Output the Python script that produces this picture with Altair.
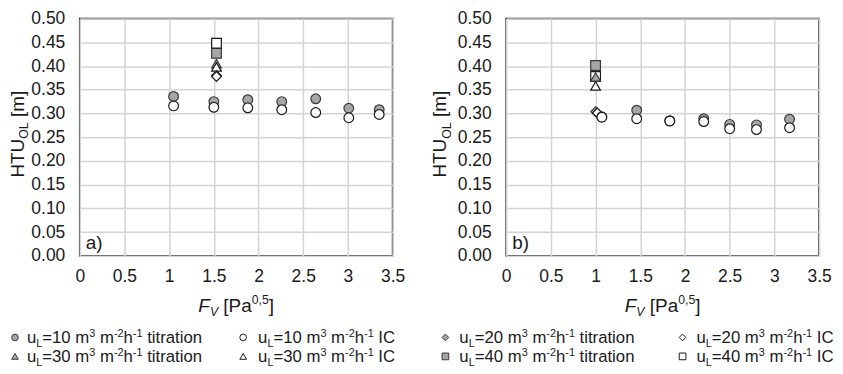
import altair as alt
import pandas as pd

# ---------------- data ----------------
x_ticks = [0, 0.5, 1, 1.5, 2, 2.5, 3, 3.5]
y_ticks = [0, 0.05, 0.10, 0.15, 0.20, 0.25, 0.30, 0.35, 0.40, 0.45, 0.50]

# panel a)
fv_a_ul10 = [1.05, 1.50, 1.88, 2.26, 2.64, 3.01, 3.35]
htu_a_ul10_titration = [0.336, 0.325, 0.329, 0.325, 0.331, 0.311, 0.308]
htu_a_ul10_ic = [0.316, 0.313, 0.312, 0.308, 0.302, 0.291, 0.298]

# other liquid loads: order uL=40 tit, 40 IC, 30 tit, 30 IC, 20 tit, 20 IC
other_ul = ["40", "40", "30", "30", "20", "20"]
other_method = ["titration", "IC", "titration", "IC", "titration", "IC"]
fv_a_other = [1.53, 1.53, 1.53, 1.53, 1.53, 1.53]
htu_a_other = [0.427, 0.448, 0.405, 0.398, 0.380, 0.378]

# panel b)
fv_b_ul10 = [1.07, 1.46, 1.83, 2.21, 2.50, 2.80, 3.17]
htu_b_ul10_titration = [0.293, 0.307, 0.285, 0.289, 0.277, 0.276, 0.288]
htu_b_ul10_ic = [0.292, 0.289, 0.284, 0.283, 0.268, 0.266, 0.270]
fv_b_other = [1.00, 1.00, 1.00, 1.00, 1.00, 1.02]
htu_b_other = [0.401, 0.378, 0.377, 0.358, 0.304, 0.301]

# legend entries (row-major, 4 columns)
legend_ul = ["10", "10", "20", "20", "30", "30", "40", "40"]
legend_method = ["titration", "IC", "titration", "IC", "titration", "IC", "titration", "IC"]
panel_labels = ["a)", "b)"]

# ---------------- style / layout ----------------
FONT = "Liberation Sans"
TEXT = "#1a1a1a"
W, H = 314, 238
SPACING = 114
TITLE_S = 19
LEG_S = 16.8
GRAY = "#a6a6a6"

AW = {' ': 278, '[': 278, ']': 278, '(': 333, ')': 333, ',': 278, '.': 278, '=': 584,
      '-': 333, 'F': 611, 'V': 667, 'P': 667, 'H': 722, 'T': 611, 'U': 722, 'O': 778,
      'L': 556, 'I': 278, 'C': 722, 'a': 556, 'b': 556, 'm': 833, 'u': 556, 'h': 556,
      't': 278, 'i': 222, 'r': 333, 'o': 556, 'n': 556}


def tw(s, size):
    return sum(AW.get(c, 556) for c in s) / 1000.0 * size


def rich(segs, S, ax, ay, angle=0, center=True):
    parts, adv = [], 0.0
    for t, kind, it in segs:
        sz = S if kind == "n" else round(S * 0.65, 1)
        shift = 0.0 if kind == "n" else (0.22 * S if kind == "sub" else -0.38 * S)
        parts.append((t, sz, shift, it, adv))
        adv += tw(t, sz)
    start = -adv / 2 if center else 0.0
    rows = []
    for t, sz, shift, it, a in parts:
        lead = len(t) - len(t.lstrip())
        a2 = start + a + tw(t[:lead], sz)
        if angle == 0:
            px, py = ax + a2, ay + shift
        else:
            px, py = ax + shift, ay - a2
        rows.append(dict(t=t.strip(), size=sz, italic=it, angle=angle, px=px, py=py))
    return rows


xscale = alt.Scale(domain=[0, 3.5], nice=False, zero=False)
yscale = alt.Scale(domain=[0, 0.5], nice=False, zero=False)
xaxis = alt.Axis(values=x_ticks, format=".1~f", title=None, labelPadding=12,
                 labelFlush=False, labelOverlap=False)
yaxis = alt.Axis(values=y_ticks, format=".2f", title=None, labelPadding=15,
                 labelFlush=False, labelOverlap=False)
X = alt.X("fv:Q", scale=xscale, axis=xaxis)
Y = alt.Y("htu:Q", scale=yscale, axis=yaxis)
shape_enc = alt.Shape("ul:N", scale=alt.Scale(domain=["10", "20", "30", "40"],
                      range=["circle", "diamond", "triangle-up", "square"]), legend=None)
fill_enc = alt.Fill("method:N", scale=alt.Scale(domain=["titration", "IC"],
                    range=[GRAY, "#ffffff"]), legend=None)
stroke_enc = alt.Stroke("method:N", scale=alt.Scale(domain=["titration", "IC"],
                        range=["#3a3a3a", "#1a1a1a"]), legend=None)


def text_layers(rows):
    df = pd.DataFrame(rows)
    df["fv"] = df["px"] / W * 3.5
    df["htu"] = 0.5 * (1 - df["py"] / H)
    layers = []
    for (sz, it, ang), g in df.groupby(["size", "italic", "angle"]):
        mk = dict(align="left", baseline="alphabetic", fontSize=float(sz), font=FONT, color=TEXT)
        if bool(it):
            mk["fontStyle"] = "italic"
        if int(ang) != 0:
            mk["angle"] = float(ang)
        layers.append(alt.Chart(g[["fv", "htu", "t"]].reset_index(drop=True))
                      .mark_text(**mk).encode(x=X, y=Y, text="t:N"))
    return layers


def panel(fv10, tit10, ic10, fvo, htuo, label, ytitle_off, with_legend):
    rows = []
    for u, m, f, h in zip(other_ul, other_method, fvo, htuo):
        rows.append(dict(ul=u, method=m, fv=f, htu=h))
    for f, h in zip(fv10, tit10):
        rows.append(dict(ul="10", method="titration", fv=f, htu=h))
    for f, h in zip(fv10, ic10):
        rows.append(dict(ul="10", method="IC", fv=f, htu=h))
    pts = alt.Chart(pd.DataFrame(rows)).mark_point(
        filled=True, size=95, strokeWidth=1.2, opacity=1
    ).encode(x=X, y=Y, shape=shape_enc, fill=fill_enc, stroke=stroke_enc)

    trows = []
    # y title  HTU_OL [m]
    trows += rich([("HTU", "n", False), ("OL", "sub", False), (" [m]", "n", False)],
                  TITLE_S, ytitle_off, H / 2 - 3, angle=270)
    # x title  F_V [Pa^0,5]
    trows += rich([("F", "n", True), ("V", "sub", True), (" [Pa", "n", False),
                   ("0,5", "sup", False), ("]", "n", False)], TITLE_S, W / 2, H + 56)
    # panel label
    trows += rich([(label, "n", False)], TITLE_S, 6, H - 7, center=False)

    layers = [pts]
    if with_legend:
        col_sym = [13, 242, 445, 683]
        col_txt = [25, 257, 459, 697]
        row_sym = [H + 82, H + 101]
        row_txt = [H + 88, H + 107]
        left = 78
        sym_rows = []
        for i, (u, m) in enumerate(zip(legend_ul, legend_method)):
            r, c = divmod(i, 4)
            sym_rows.append(dict(ul=u, method=m,
                                 fv=(col_sym[c] - left) / W * 3.5,
                                 htu=0.5 * (1 - row_sym[r] / H)))
            trows += rich([("u", "n", False), ("L", "sub", False), ("=" + u + " m", "n", False),
                           ("3", "sup", False), (" m", "n", False), ("-2", "sup", False),
                           ("h", "n", False), ("-1", "sup", False), (" " + m, "n", False)],
                          LEG_S, col_txt[c] - left, row_txt[r], center=False)
        layers.append(alt.Chart(pd.DataFrame(sym_rows)).mark_point(
            filled=True, size=45, strokeWidth=1, opacity=1
        ).encode(x=X, y=Y, shape=shape_enc, fill=fill_enc, stroke=stroke_enc))
    layers += text_layers(trows)
    return alt.layer(*layers).properties(width=W, height=H)


pa = panel(fv_a_ul10, htu_a_ul10_titration, htu_a_ul10_ic, fv_a_other, htu_a_other,
           panel_labels[0], -56, True)
pb = panel(fv_b_ul10, htu_b_ul10_titration, htu_b_ul10_ic, fv_b_other, htu_b_other,
           panel_labels[1], -60, False)

chart = alt.hconcat(pa, pb, spacing=SPACING, bounds="flush").properties(
    padding=0
).configure_view(
    stroke="#1a1a1a", strokeWidth=1.6
).configure_axis(
    labelFont=FONT, labelFontSize=17.5, labelColor=TEXT, grid=True,
    gridColor="#d4d4d4", gridWidth=1.5, domain=False, ticks=False
)

chart.save("out.html", embed_options={"renderer": "svg", "actions": False})
